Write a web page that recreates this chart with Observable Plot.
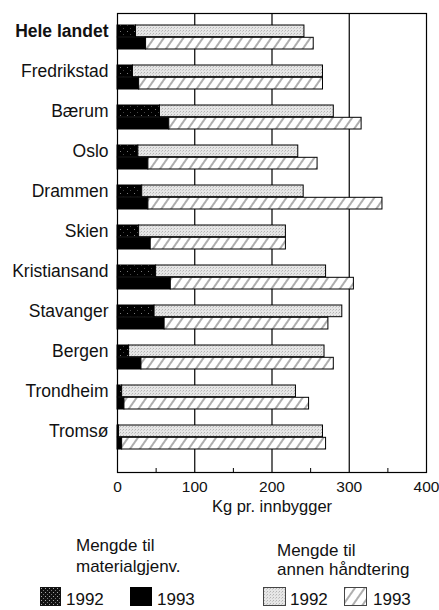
<!DOCTYPE html>
<html>
<head>
<meta charset="utf-8">
<script src="https://cdn.jsdelivr.net/npm/d3@7"></script>
<script src="https://cdn.jsdelivr.net/npm/@observablehq/plot@0.6"></script>
<style>
  html, body { margin: 0; padding: 0; background: #fff; }
  #wrap { position: relative; width: 439px; height: 610px; font-family: "Liberation Sans", Arial, Helvetica, sans-serif; }
  #legend { position: absolute; left: 0; top: 0; }
</style>
</head>
<body>
<div id="wrap">
  <div id="chart"></div>
  <svg id="legend" width="439" height="610"></svg>
</div>
<script>
// ---- data (kg per inhabitant) ----
const cities = ["Hele landet","Fredrikstad","Bærum","Oslo","Drammen","Skien","Kristiansand","Stavanger","Bergen","Trondheim","Tromsø"];
const mat1992 = [24, 20, 55, 27, 32, 28, 50, 48, 15, 6, 2];     // to material recovery 1992
const mat1993 = [37, 28, 67, 40, 40, 43, 69, 61, 31, 9, 6];     // to material recovery 1993
const oth1992 = [218, 246, 225, 207, 209, 190, 220, 243, 253, 225, 264]; // other handling 1992
const oth1993 = [217, 238, 249, 219, 303, 175, 237, 212, 249, 239, 264]; // other handling 1993
const xTicks = [0, 100, 200, 300, 400];
const gridTicks = [100, 200, 300];
const minorTicks = [50, 150, 250, 350];
const axisLabel = "Kg pr. innbygger";
const legendLeftTitle = ["Mengde til", "materialgjenv."];
const legendRightTitle = ["Mengde til", "annen håndtering"];
const years = ["1992", "1993"];

const rows = cities.map((c, i) => ({
  city: c,
  m92: mat1992[i], t92: mat1992[i] + oth1992[i],
  m93: mat1993[i], t93: mat1993[i] + oth1993[i]
}));

// ---- patterns + legend (plain SVG) ----
const leg = document.getElementById("legend");
leg.innerHTML = `
<defs>
  <pattern id="pat92m" patternUnits="userSpaceOnUse" width="7" height="6">
    <rect width="7" height="6" fill="#000"/>
    <rect x="1" y="1" width="1" height="1" fill="#777"/>
    <rect x="4" y="4" width="1" height="1" fill="#444"/>
  </pattern>
  <pattern id="pat92mLeg" patternUnits="userSpaceOnUse" width="4" height="4">
    <rect width="4" height="4" fill="#111"/>
    <rect x="1" y="0" width="1" height="1" fill="#aaa"/>
    <rect x="3" y="2" width="1" height="1" fill="#777"/>
  </pattern>
  <pattern id="pat92o" patternUnits="userSpaceOnUse" width="3" height="3">
    <rect width="3" height="3" fill="#e6e6e6"/>
    <rect x="0" y="0" width="1" height="1" fill="#b4b4b4"/>
    <rect x="2" y="1" width="1" height="1" fill="#cacaca"/>
  </pattern>
  <pattern id="pat93o" patternUnits="userSpaceOnUse" width="8" height="8" patternTransform="rotate(35)">
    <rect width="8" height="8" fill="#fff"/>
    <line x1="4" y1="0" x2="4" y2="8" stroke="#333" stroke-width="0.8"/>
  </pattern>
</defs>
<g font-size="17" fill="#111">
  <text x="76" y="551">${legendLeftTitle[0]}</text>
  <text x="76" y="572">${legendLeftTitle[1]}</text>
  <text x="277" y="556">${legendRightTitle[0]}</text>
  <text x="277" y="575">${legendRightTitle[1]}</text>
  <rect x="40" y="587" width="21" height="19" fill="url(#pat92mLeg)"/>
  <text x="66" y="604.5">${years[0]}</text>
  <rect x="130" y="587" width="22" height="19" fill="#000"/>
  <text x="157" y="604.5">${years[1]}</text>
  <rect x="263.5" y="587.5" width="22" height="18" fill="url(#pat92o)" stroke="#444" stroke-width="1"/>
  <text x="290" y="604.5">${years[0]}</text>
  <rect x="344.5" y="587.5" width="22" height="18" fill="url(#pat93o)" stroke="#444" stroke-width="1"/>
  <text x="373" y="604.5">${years[1]}</text>
</g>`;

// ---- chart ----
const yRange = [22, 452];
const padIn = 0.393;
const step = (yRange[1] - yRange[0]) / (cities.length - padIn);
const half = step * (1 - padIn) / 2;

const chart = Plot.plot({
  width: 439,
  height: 524,
  marginLeft: 117,
  marginRight: 13,
  marginTop: 13,
  marginBottom: 52,
  style: { fontFamily: '"Liberation Sans", Arial, Helvetica, sans-serif', color: "#111", background: "#fff" },
  x: { domain: [0, 400], axis: null },
  y: { domain: cities, range: yRange, paddingInner: padIn, paddingOuter: 0, axis: null },
  marks: [
    Plot.ruleX(gridTicks, { stroke: "#000", strokeWidth: 1.2 }),
    Plot.ruleX(minorTicks, { stroke: "#000", strokeWidth: 1, insetTop: 455 }),
    // 1992
    Plot.barX(rows, { y: "city", x1: 0, x2: "m92", fill: "url(#pat92m)", stroke: "#000", strokeWidth: 1, insetBottom: half }),
    Plot.barX(rows, { y: "city", x1: "m92", x2: "t92", fill: "url(#pat92o)", stroke: "#000", strokeWidth: 1, insetBottom: half }),
    // 1993
    Plot.barX(rows, { y: "city", x1: 0, x2: "m93", fill: "#000", stroke: "#000", strokeWidth: 1, insetTop: half }),
    Plot.barX(rows, { y: "city", x1: "m93", x2: "t93", fill: "url(#pat93o)", stroke: "#000", strokeWidth: 1, insetTop: half }),
    Plot.frame({ stroke: "#000", strokeWidth: 1.2 }),
    Plot.axisX({ ticks: xTicks, tickSize: 0, tickPadding: 8, fontSize: 15.5, label: null, tickFormat: d => String(d) }),
    Plot.text([axisLabel], { frameAnchor: "bottom", dy: 39, fontSize: 16.5, fill: "#111" }),
    Plot.text(cities.filter(c => c === "Hele landet"), { y: d => d, frameAnchor: "left", textAnchor: "end", dx: -9, dy: -6, fontSize: 17.5, fontWeight: "bold", fill: "#111" }),
    Plot.text(cities.filter(c => c !== "Hele landet"), { y: d => d, frameAnchor: "left", textAnchor: "end", dx: -9, dy: -6, fontSize: 17.5, fill: "#111" })
  ]
});
document.getElementById("chart").appendChild(chart);
</script>
</body>
</html>
